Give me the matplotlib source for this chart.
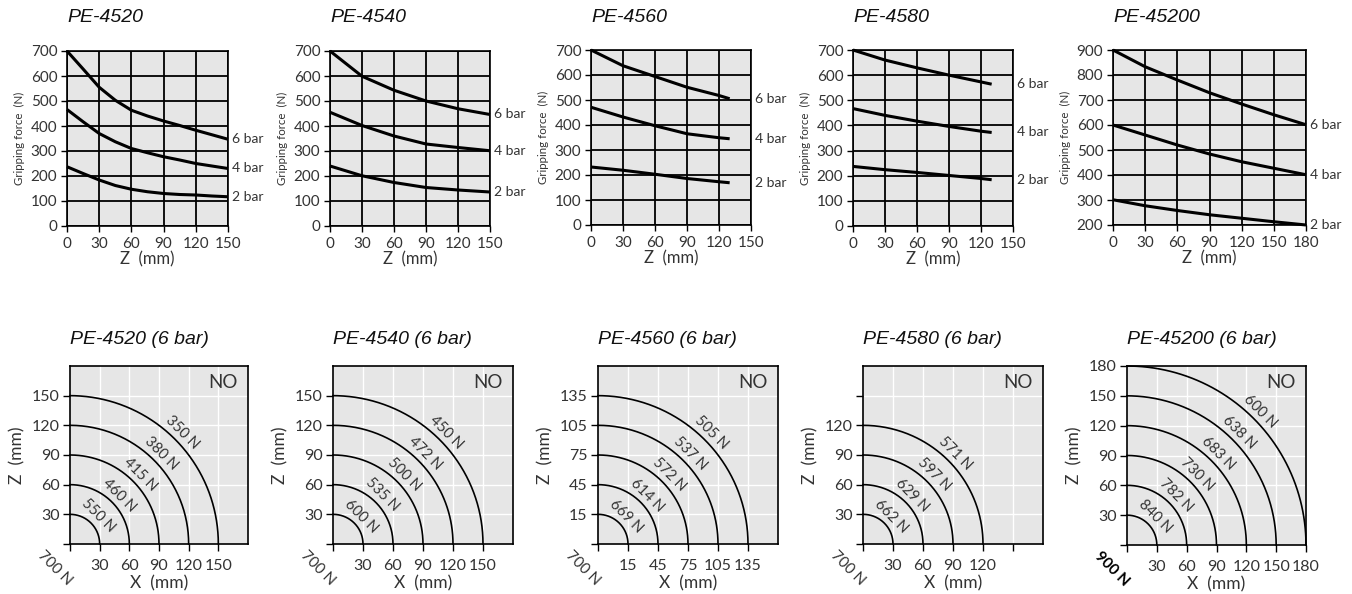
import numpy as np
import matplotlib
matplotlib.use('Agg')
import matplotlib.pyplot as plt

W, H = 1352, 594
TITLE_FONT = ['Liberation Sans Narrow', 'Liberation Sans', 'DejaVu Sans']
LABEL_FONT = ['Lato', 'DejaVu Sans']
TXT = '#333333'
FACE = '#e6e6e6'

plt.rcParams['font.family'] = LABEL_FONT

# ---------------- top row data ----------------
top_titles = ['PE-4520', 'PE-4540', 'PE-4560', 'PE-4580', 'PE-45200']
series_names = ['6 bar', '4 bar', '2 bar']

z_4520 = [0, 15, 30, 45, 60, 75, 90, 105, 120, 135, 150]
f6_4520 = [700, 628, 555, 503, 463, 440, 420, 402, 383, 365, 347]
f4_4520 = [466, 417, 370, 337, 310, 293, 277, 264, 250, 240, 230]
f2_4520 = [237, 210, 184, 162, 147, 137, 130, 126, 124, 120, 117]

z_4540 = [0, 30, 60, 90, 120, 150]
f6_4540 = [700, 599, 543, 500, 469, 446]
f4_4540 = [455, 402, 360, 328, 314, 301]
f2_4540 = [240, 201, 174, 154, 144, 136]

z_4560 = [0, 30, 60, 90, 120, 130]
f6_4560 = [700, 637, 594, 551, 518, 505]
f4_4560 = [471, 432, 397, 365, 349, 345]
f2_4560 = [232, 219, 203, 186, 173, 169]

z_4580 = [0, 30, 60, 90, 120, 130]
f6_4580 = [700, 660, 629, 600, 573, 564]
f4_4580 = [467, 440, 417, 396, 377, 372]
f2_4580 = [237, 224, 213, 201, 189, 184]

z_45200 = [0, 30, 60, 90, 120, 150, 180]
f6_45200 = [900, 833, 780, 729, 684, 641, 601]
f4_45200 = [600, 560, 520, 484, 453, 427, 401]
f2_45200 = [301, 277, 258, 241, 227, 213, 200]

top_x = [z_4520, z_4540, z_4560, z_4580, z_45200]
top_series = [[f6_4520, f4_4520, f2_4520],
              [f6_4540, f4_4540, f2_4540],
              [f6_4560, f4_4560, f2_4560],
              [f6_4580, f4_4580, f2_4580],
              [f6_45200, f4_45200, f2_45200]]
top_xmax = [150, 150, 150, 150, 180]
top_ylim = [(0, 700), (0, 700), (0, 700), (0, 700), (200, 900)]

# axes boxes in pixels: left, right, top, bottom
top_boxes = [(67, 228, 51, 226), (330, 490, 51, 226), (591, 751, 50, 225),
             (853, 1013, 50, 226), (1113, 1306, 50, 225)]

# ---------------- bottom row data ----------------
bottom_titles = ['PE-4520 (6 bar)', 'PE-4540 (6 bar)', 'PE-4560 (6 bar)',
                 'PE-4580 (6 bar)', 'PE-45200 (6 bar)']
zr_4520 = [30, 60, 90, 120, 150]
n_4520 = [550, 460, 415, 380, 350]
zr_4540 = [30, 60, 90, 120, 150]
n_4540 = [600, 535, 500, 472, 450]
zr_4560 = [15, 45, 75, 105, 135]
n_4560 = [669, 614, 572, 537, 505]
zr_4580 = [30, 60, 90, 120]
n_4580 = [662, 629, 597, 571]
zr_45200 = [30, 60, 90, 120, 150, 180]
n_45200 = [840, 782, 730, 683, 638, 600]
corner_labels = ['700 N', '700 N', '700 N', '700 N', '900 N']

bottom_z = [zr_4520, zr_4540, zr_4560, zr_4580, zr_45200]
bottom_n = [n_4520, n_4540, n_4560, n_4580, n_45200]
bottom_boxes = [(70, 248, 366, 544), (333, 513, 366, 544), (598, 778, 366, 544),
                (863, 1043, 366, 544), (1127, 1306, 366, 545)]

fig = plt.figure(figsize=(W / 100, H / 100), dpi=100)


def add_axes(box):
    l, r, t, b = box
    return fig.add_axes([l / W, 1 - b / H, (r - l) / W, (b - t) / H])


# ---------------- top row ----------------
for i in range(5):
    ax = add_axes(top_boxes[i])
    l, r, t, b = top_boxes[i]
    ax.set_facecolor(FACE)
    ax.set_xlim(0, top_xmax[i])
    ax.set_ylim(*top_ylim[i])
    ax.set_xticks(np.arange(0, top_xmax[i] + 1, 30))
    ax.set_yticks(np.arange(top_ylim[i][0], top_ylim[i][1] + 1, 100))
    ax.grid(True, color='black', linewidth=1.3)
    ax.set_axisbelow(True)
    for s in ax.spines.values():
        s.set_linewidth(1.2)
        s.set_color('black')
    ax.tick_params(direction='out', length=4, width=1, colors='black',
                   labelcolor=TXT, labelsize=11)
    ax.tick_params(axis='x', pad=4)
    ax.tick_params(axis='y', pad=3)
    for name, ys in zip(series_names, top_series[i]):
        ax.plot(top_x[i], ys, color='black', linewidth=2.2,
                solid_capstyle='butt', zorder=3, clip_on=False)
        ax.annotate(name, xy=(1.0, ys[-1]),
                    xycoords=('axes fraction', 'data'),
                    xytext=(3, 0), textcoords='offset points',
                    ha='left', va='center', fontsize=10, color=TXT)
    ax.set_xlabel('Z  (mm)', fontsize=12, color=TXT)
    ax.xaxis.set_label_coords(0.5, -25 / (b - t))
    ax.set_ylabel('Gripping force  (N)', fontsize=8.3, color=TXT)
    ax.yaxis.set_label_coords(-42 / (r - l), 0.5)
    fig.text(l / W, 1 - 18 / H, top_titles[i], family=TITLE_FONT,
             style='italic', fontsize=14, color='#111111', va='center',
             ha='left')

# ---------------- bottom row ----------------
theta = np.linspace(0, np.pi / 2, 200)
for i in range(5):
    ax = add_axes(bottom_boxes[i])
    l, r, t, b = bottom_boxes[i]
    ax.set_facecolor(FACE)
    ax.set_xlim(0, 180)
    ax.set_ylim(0, 180)
    zl = bottom_z[i]
    nt = max(5, len(zl))
    pos = [30 * (k + 1) for k in range(nt)]
    labels = [str(v) for v in zl] + [''] * (nt - len(zl))
    ax.set_xticks([0] + pos)
    ax.set_xticklabels([''] + labels)
    ax.set_yticks([0] + pos)
    ax.set_yticklabels([''] + labels)
    for g in range(30, 180, 30):
        ax.axvline(g, color='white', linewidth=1.0, zorder=1)
        ax.axhline(g, color='white', linewidth=1.0, zorder=1)
    for s in ax.spines.values():
        s.set_linewidth(1.2)
        s.set_color('black')
    ax.tick_params(direction='out', length=5, width=1, colors='black',
                   labelcolor=TXT, labelsize=11.5)
    ax.tick_params(axis='x', pad=6)
    ax.tick_params(axis='y', pad=2.5)
    for k, force in enumerate(bottom_n[i]):
        rad = 30 * (k + 1)
        ax.plot(rad * np.cos(theta), rad * np.sin(theta), color='black',
                linewidth=1.2, zorder=3, clip_on=False)
        rl = (rad + 10) / np.sqrt(2)
        ax.text(rl, rl, f'{force} N', rotation=-45, ha='center',
                va='center', fontsize=10.5, color=TXT, zorder=4,
                rotation_mode='anchor')
    ax.text(0.86, 0.91, 'NO', transform=ax.transAxes, ha='center',
            va='center', fontsize=13.5, color=TXT)
    ax.annotate(corner_labels[i], xy=(0, 0), xycoords='data',
                xytext=(-11, -17), textcoords='offset points',
                rotation=-45, ha='center', va='center', fontsize=11,
                color=('black' if i == 4 else TXT),
                fontweight=('bold' if i == 4 else 'normal'),
                rotation_mode='anchor', annotation_clip=False)
    ax.set_xlabel('X  (mm)', fontsize=12.5, color=TXT)
    ax.xaxis.set_label_coords(0.5, -31 / (b - t))
    ax.set_ylabel('Z  (mm)', fontsize=12.5, color=TXT)
    ax.yaxis.set_label_coords(-45 / (r - l), 0.5)
    fig.text(l / W, 1 - 339 / H, bottom_titles[i], family=TITLE_FONT,
             style='italic', fontsize=14, color='#111111', va='center',
             ha='left')

fig.savefig('out.png', dpi=100, facecolor='white')
